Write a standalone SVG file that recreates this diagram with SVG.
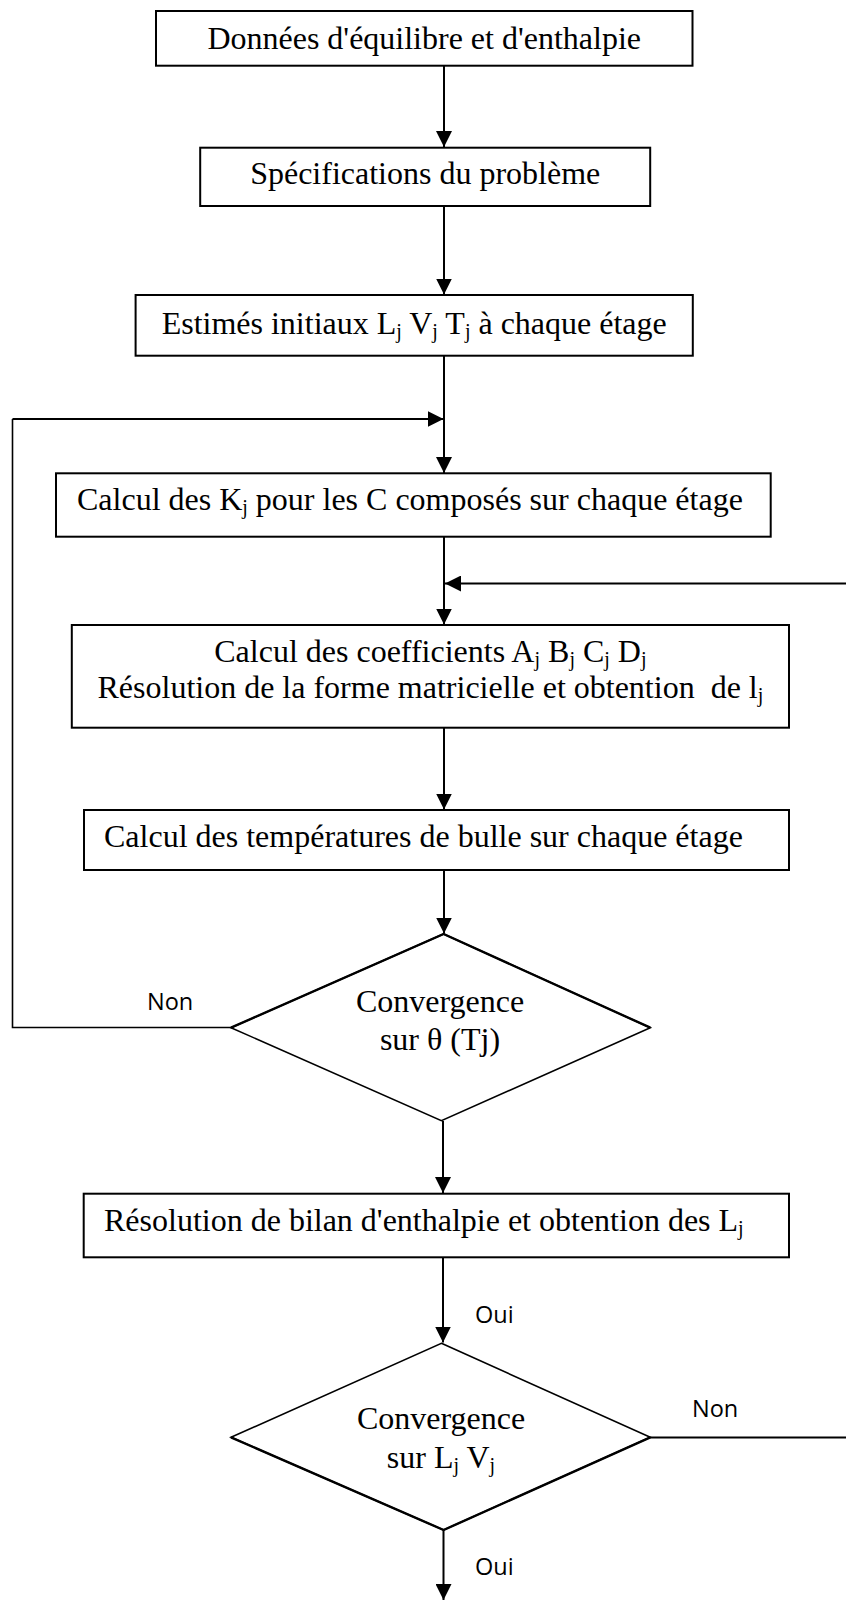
<svg xmlns="http://www.w3.org/2000/svg" width="846" height="1600" viewBox="0 0 846 1600">
  <style>
    .box { fill: #ffffff; stroke: #000000; stroke-width: 2; }
    .dia { fill: #ffffff; stroke: #000000; stroke-width: 1.6; }
    .t { font-family: "Liberation Serif", "Times New Roman", serif; font-size: 32px; fill: #000000; }
    .c { text-anchor: middle; }
    .s { font-size: 20px; }
    .lbl { font-family: "Open Sans", "Liberation Sans", sans-serif; font-size: 23.5px; fill: #000000; }
    .edge { fill: none; stroke: #000000; stroke-width: 2; }
    .thin { fill: none; stroke: #000000; stroke-width: 1.6; }
  </style>
  <defs>
    <marker id="arrow" markerUnits="userSpaceOnUse" markerWidth="16" markerHeight="16" viewBox="0 0 14 14" refX="14" refY="7" orient="auto">
      <path d="M0,0 L14,7 L0,14 Z" fill="#000000"/>
    </marker>
  </defs>

  <!-- connectors -->
  <g id="connectors">
    <line class="edge" x1="444" y1="66" x2="444" y2="147" marker-end="url(#arrow)"/>
    <line class="edge" x1="444" y1="206" x2="444" y2="294.5" marker-end="url(#arrow)"/>
    <line class="edge" x1="444" y1="356" x2="444" y2="473" marker-end="url(#arrow)"/>
    <line class="edge" x1="444" y1="537" x2="444" y2="624.5" marker-end="url(#arrow)"/>
    <line class="edge" x1="444" y1="728" x2="444" y2="809.5" marker-end="url(#arrow)"/>
    <line class="edge" x1="444" y1="870" x2="444" y2="933.5" marker-end="url(#arrow)"/>
    <line class="edge" x1="443" y1="1121" x2="443" y2="1193" marker-end="url(#arrow)"/>
    <line class="edge" x1="443" y1="1257" x2="443" y2="1342.5" marker-end="url(#arrow)"/>
    <line class="edge" x1="443.5" y1="1530" x2="443.5" y2="1600" marker-end="url(#arrow)"/>
    <!-- loop back from the temperature test -->
    <polyline class="thin" points="231,1027.5 12.5,1027.5 12.5,419"/>
    <line class="edge" x1="12.5" y1="419" x2="443.5" y2="419" marker-end="url(#arrow)"/>
    <!-- loop back from the flow test -->
    <polyline class="edge" points="650,1437.5 850,1437.5 850,583.5"/>
    <line class="edge" x1="850" y1="583.5" x2="445" y2="583.5" marker-end="url(#arrow)"/>
    <!-- branch labels -->
    <text class="lbl" x="147" y="1010">Non</text>
    <text class="lbl" x="475" y="1323">Oui</text>
    <text class="lbl" x="692" y="1416.5">Non</text>
    <text class="lbl" x="475" y="1575">Oui</text>
  </g>

  <g id="n1">
    <rect class="box" x="156" y="11" width="536.5" height="54.7"/>
    <text class="t c" x="424.2" y="48.5">Données d'équilibre et d'enthalpie</text>
  </g>

  <g id="n2">
    <rect class="box" x="200.2" y="147.7" width="450" height="58.3"/>
    <text class="t c" x="425.2" y="184">Spécifications du problème</text>
  </g>

  <g id="n3">
    <rect class="box" x="135.6" y="295" width="557.2" height="60.7"/>
    <text class="t c" x="414.2" y="333.5">Estimés initiaux L<tspan class="s" dy="4">j</tspan><tspan dy="-4"> V</tspan><tspan class="s" dy="4">j</tspan><tspan dy="-4"> T</tspan><tspan class="s" dy="4">j</tspan><tspan dy="-4"> à chaque étage</tspan></text>
  </g>

  <g id="n4">
    <rect class="box" x="56" y="473.3" width="714.7" height="63.4"/>
    <text class="t" x="77" y="510.2">Calcul des K<tspan class="s" dy="4">j</tspan><tspan dy="-4"> pour les C composés sur chaque étage</tspan></text>
  </g>

  <g id="n5">
    <rect class="box" x="71.8" y="625" width="717.2" height="102.7"/>
    <text class="t c" x="430.4" y="662">Calcul des coefficients A<tspan class="s" dy="4">j</tspan><tspan dy="-4"> B</tspan><tspan class="s" dy="4">j</tspan><tspan dy="-4"> C</tspan><tspan class="s" dy="4">j</tspan><tspan dy="-4"> D</tspan><tspan class="s" dy="4">j</tspan></text>
    <text class="t c" x="430.4" y="697.5" xml:space="preserve">Résolution de la forme matricielle et obtention  de l<tspan class="s" dy="4">j</tspan></text>
  </g>

  <g id="n6">
    <rect class="box" x="84" y="810" width="705" height="60"/>
    <text class="t" x="104" y="846.8">Calcul des températures de bulle sur chaque étage</text>
  </g>

  <g id="n7">
    <polygon class="dia" points="443.6,934 650.3,1027.7 441.4,1120.7 231,1027.7"/>
    <polyline fill="none" stroke="#000000" stroke-width="2.4" points="231,1027.7 443.6,934 650.3,1027.7"/>
    <text class="t c" x="440" y="1011.7">Convergence</text>
    <text class="t c" x="440" y="1050">sur θ (Tj)</text>
  </g>

  <g id="n8">
    <rect class="box" x="83.7" y="1193.7" width="705.3" height="63.6"/>
    <text class="t" x="104" y="1230.5">Résolution de bilan d'enthalpie et obtention des L<tspan class="s" dy="4">j</tspan></text>
  </g>

  <g id="n9">
    <polygon class="dia" points="441.4,1343.3 650.3,1437.3 443.6,1530 231,1437.3"/>
    <polyline fill="none" stroke="#000000" stroke-width="2.4" points="231,1437.3 443.6,1530 650.3,1437.3"/>
    <text class="t c" x="441" y="1429.3">Convergence</text>
    <text class="t c" x="441" y="1468">sur L<tspan class="s" dy="4">j</tspan><tspan dy="-4"> V</tspan><tspan class="s" dy="4">j</tspan></text>
  </g>
</svg>
